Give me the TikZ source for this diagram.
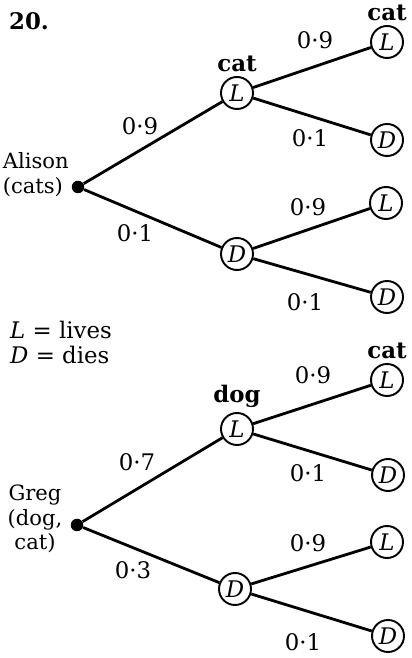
\documentclass[tikz,border=0pt]{standalone}
\usepackage{fontspec}
\setmainfont{DejaVu Serif}
\usetikzlibrary{positioning}

\tikzset{
  every node/.style={font=\fontsize{13}{14}\selectfont},
  outcome/.style={circle, draw, line width=1.1pt, minimum size=0.64cm, inner sep=0pt,
    font=\fontsize{13}{14}\selectfont\itshape},
  start/.style={circle, fill, inner sep=0pt, minimum size=0.25cm},
  branch/.style={line width=1.6pt},
  tag/.style={font=\fontsize{13}{14}\selectfont\bfseries},
  owner/.style={font=\fontsize{12}{14}\selectfont, inner sep=0pt}
}

\begin{document}
\begin{tikzpicture}
    \useasboundingbox (0,0) rectangle (8.22,13.16);
    \node[tag] at (0.58,12.74) {20.};

    % Alison
    \node[start] (a) at (1.56,9.42) {};
    \node[owner, anchor=west, align=left] at (0.05,9.67) {Alison\\(cats)};
    \node[outcome] (aL) at (4.74,11.30) {L};
    \node[outcome] (aD) at (4.74,8.08) {D};
    \node[outcome] (aLL) at (7.74,12.32) {L};
    \node[outcome] (aLD) at (7.74,10.36) {D};
    \node[outcome] (aDL) at (7.72,9.10) {L};
    \node[outcome] (aDD) at (7.74,7.22) {D};
    \node[tag, above=-1pt of aL] {cat};
    \node[tag, above=-1pt of aLL] {cat};
    \draw[branch] (a) -- (aL);
    \draw[branch] (a) -- (aD);
    \draw[branch] (aL) -- (aLL);
    \draw[branch] (aL) -- (aLD);
    \draw[branch] (aD) -- (aDL);
    \draw[branch] (aD) -- (aDD);
    \node at (2.80,10.64) {0·9};
    \node at (2.70,8.50) {0·1};
    \node at (6.30,12.36) {0·9};
    \node at (6.20,10.40) {0·1};
    \node at (6.16,9.02) {0·9};
    \node at (6.10,7.12) {0·1};

    % key
    \node[anchor=north west, align=left] at (0.08,6.86) {\textit{L} = lives\\\textit{D} = dies};

    % Greg
    \node[start] (g) at (1.54,2.66) {};
    \node[owner, align=center] at (0.70,2.78) {Greg\\(dog,\\cat)};
    \node[outcome] (gL) at (4.74,4.58) {L};
    \node[outcome] (gD) at (4.70,1.38) {D};
    \node[outcome] (gLL) at (7.74,5.56) {L};
    \node[outcome] (gLD) at (7.76,3.66) {D};
    \node[outcome] (gDL) at (7.74,2.32) {L};
    \node[outcome] (gDD) at (7.76,0.44) {D};
    \node[tag, above=-1pt of gL] {dog};
    \node[tag, above=-1pt of gLL] {cat};
    \draw[branch] (g) -- (gL);
    \draw[branch] (g) -- (gD);
    \draw[branch] (gL) -- (gLL);
    \draw[branch] (gL) -- (gLD);
    \draw[branch] (gD) -- (gDL);
    \draw[branch] (gD) -- (gDD);
    \node at (2.74,3.92) {0·7};
    \node at (2.66,1.76) {0·3};
    \node at (6.26,5.66) {0·9};
    \node at (6.16,3.70) {0·1};
    \node at (6.16,2.30) {0·9};
    \node at (6.06,0.32) {0·1};
\end{tikzpicture}
\end{document}
